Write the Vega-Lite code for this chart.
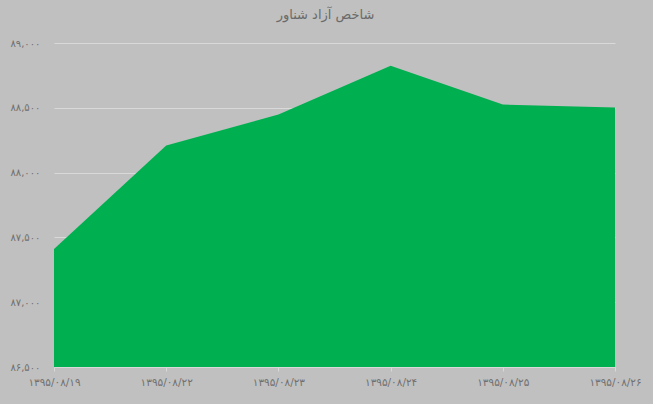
{
  "$schema": "https://vega.github.io/schema/vega-lite/v6.json",
  "width": 561,
  "height": 324,
  "autosize": "none",
  "padding": {"left": 54, "top": 43, "right": 38, "bottom": 37},
  "background": "#c0c0c0",
  "title": {
    "text": "شاخص آزاد شناور",
    "font": "DejaVu Sans",
    "fontSize": 13,
    "fontWeight": "normal",
    "color": "#6a6a6a",
    "offset": 16,
    "dx": -9
  },
  "config": {
    "view": {"stroke": null},
    "axis": {"labelFont": "DejaVu Sans", "labelColor": "#707070", "labelFontSize": 10}
  },
  "data": {
    "values": [
      {"date": "۱۳۹۵/۰۸/۱۹", "value": 87410},
      {"date": "۱۳۹۵/۰۸/۲۲", "value": 88210},
      {"date": "۱۳۹۵/۰۸/۲۳", "value": 88448},
      {"date": "۱۳۹۵/۰۸/۲۴", "value": 88825},
      {"date": "۱۳۹۵/۰۸/۲۵", "value": 88525},
      {"date": "۱۳۹۵/۰۸/۲۶", "value": 88503}
    ]
  },
  "mark": {"type": "area", "color": "#00b050", "opacity": 1, "clip": true},
  "encoding": {
    "x": {
      "field": "date",
      "type": "ordinal",
      "sort": null,
      "scale": {"type": "point", "padding": 0},
      "axis": {
        "title": null,
        "labelAngle": 0,
        "labelPadding": 6,
        "labelFontSize": 10.5,
        "tickSize": 4,
        "tickColor": "#d9d9d9",
        "domainColor": "#d9d9d9",
        "grid": false
      }
    },
    "y": {
      "field": "value",
      "type": "quantitative",
      "scale": {"domain": [86500, 89000], "nice": false, "zero": false},
      "axis": {
        "title": null,
        "values": [86500, 87000, 87500, 88000, 88500, 89000],
        "ticks": false,
        "domain": false,
        "labelPadding": 14,
        "gridColor": "#d9d9d9",
        "labelExpr": "replace(replace(replace(replace(replace(replace(replace(replace(replace(replace(format(datum.value, ','), regexp('0','g'), '۰'), regexp('1','g'), '۱'), regexp('2','g'), '۲'), regexp('3','g'), '۳'), regexp('4','g'), '۴'), regexp('5','g'), '۵'), regexp('6','g'), '۶'), regexp('7','g'), '۷'), regexp('8','g'), '۸'), regexp('9','g'), '۹')"
      }
    }
  }
}
